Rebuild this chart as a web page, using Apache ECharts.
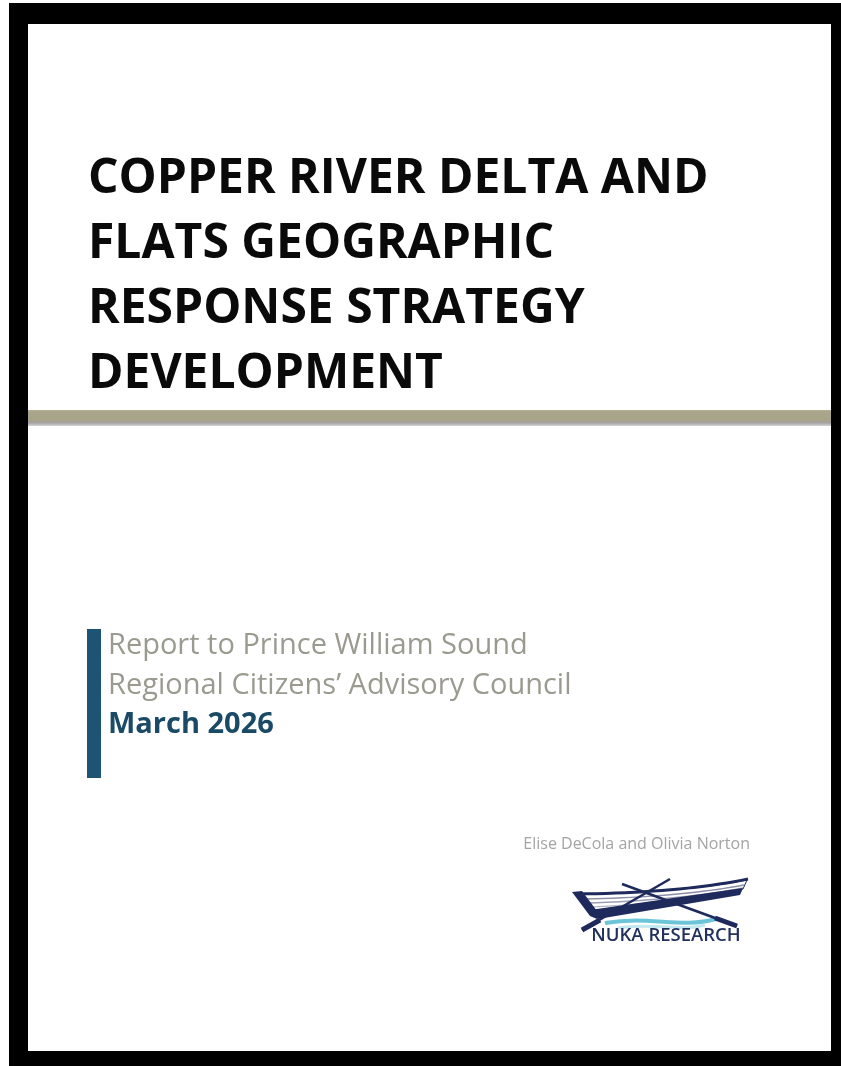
<!DOCTYPE html>
<html>
<head>
<meta charset="utf-8">
<script src="https://cdn.jsdelivr.net/npm/echarts@6/dist/echarts.min.js"></script>
<style>
html,body{margin:0;padding:0;background:#ffffff;}
#chart{width:841px;height:1066px;}
</style>
</head>
<body>
<div id="chart"></div>
<script>
// Text content of the cover
const titleLines = ["COPPER RIVER DELTA AND", "FLATS GEOGRAPHIC", "RESPONSE STRATEGY", "DEVELOPMENT"];
const subtitleLines = ["Report to Prince William Sound", "Regional Citizens\u2019 Advisory Council"];
const dateLine = ["March 2026"];
const authorLine = ["Elise DeCola and Olivia Norton"];
const logoText = ["NUKA RESEARCH"];

const chart = echarts.init(document.getElementById('chart'), null, {renderer: 'canvas', width: 841, height: 1066});

const navy = '#1f2a5c';
const elements = [];

// quadratic curve sampler for logo outline
function quad(p0, c, p1, n) {
  const pts = [];
  for (let k = 0; k <= n; k++) {
    const t = k / n, u = 1 - t;
    pts.push([u * u * p0[0] + 2 * u * t * c[0] + t * t * p1[0], u * u * p0[1] + 2 * u * t * c[1] + t * t * p1[1]]);
  }
  return pts;
}

// frame
elements.push({type: 'rect', shape: {x: 9, y: 3, width: 832, height: 1063}, style: {fill: '#000000'}, z: 0});
elements.push({type: 'rect', shape: {x: 28, y: 24, width: 803, height: 1027}, style: {fill: '#ffffff'}, z: 1});

// title
titleLines.forEach(function (t, i) {
  elements.push({
    type: 'text', x: 88, y: 179 + i * 65, z: 5,
    style: {text: t, font: '700 48px "Open Sans"', fill: '#0a0a0a', align: 'left', verticalAlign: 'middle'}
  });
});

// rule under title
elements.push({type: 'rect', shape: {x: 28, y: 410, width: 803, height: 16}, z: 4,
  style: {fill: new echarts.graphic.LinearGradient(0, 0, 0, 1, [
    {offset: 0, color: '#b4b098'}, {offset: 0.15, color: '#a9a58b'}, {offset: 0.65, color: '#a8a48a'},
    {offset: 0.8, color: '#a4a2a4'}, {offset: 1, color: '#d4d2d6'}])}});

// side bar
elements.push({type: 'rect', shape: {x: 87, y: 629, width: 14, height: 149}, style: {fill: '#1d5473'}, z: 4});

subtitleLines.forEach(function (t, i) {
  elements.push({
    type: 'text', x: 108, y: 646 + i * 40, z: 5,
    style: {text: t, font: '400 29px "Open Sans"', fill: '#9b9a90', align: 'left', verticalAlign: 'middle'}
  });
});
elements.push({
  type: 'text', x: 108, y: 725, z: 5,
  style: {text: dateLine[0], font: '700 29px "Open Sans"', fill: '#1b4a66', align: 'left', verticalAlign: 'middle'}
});

// authors
elements.push({
  type: 'text', x: 750, y: 844, z: 5,
  style: {text: authorLine[0], font: '400 16px "Open Sans"', fill: '#a4a4a4', align: 'right', verticalAlign: 'middle'}
});

// logo: wave
elements.push({type: 'bezierCurve', z: 5, shape: {x1: 605, y1: 923, x2: 716, y2: 919, cpx1: 650, cpy1: 915, cpx2: 680, cpy2: 929},
  style: {stroke: '#6cc4d8', lineWidth: 4, fill: null}});
elements.push({type: 'bezierCurve', z: 5, shape: {x1: 618, y1: 928, x2: 705, y2: 925, cpx1: 650, cpy1: 922, cpx2: 680, cpy2: 932},
  style: {stroke: '#c4e8f0', lineWidth: 3, fill: null}});
// hull body
const hullTop = quad([577, 894], [680, 893], [747, 880], 20);
elements.push({type: 'polygon', z: 6, shape: {points: hullTop.concat([[743, 889], [590, 911]])},
  style: {fill: '#ffffff', stroke: navy, lineWidth: 1}});
// stripes
elements.push({type: 'polyline', z: 7, shape: {points: quad([585, 899], [680, 897], [744, 885], 20)}, style: {stroke: '#8a8ea6', lineWidth: 1.5, fill: null}});
elements.push({type: 'polyline', z: 7, shape: {points: quad([588, 903], [680, 900], [743, 888], 20)}, style: {stroke: '#9da0b4', lineWidth: 1.5, fill: null}});
elements.push({type: 'polyline', z: 7, shape: {points: quad([590, 907], [680, 903], [742, 890], 20)}, style: {stroke: '#b0b2c2', lineWidth: 1.2, fill: null}});
// gunwale
elements.push({type: 'polyline', z: 8, shape: {points: quad([575, 894], [680, 893], [748, 879], 20)}, style: {stroke: navy, lineWidth: 3, fill: null}});
// bottom band
elements.push({type: 'polygon', z: 8, shape: {points: [[590, 910], [743, 888], [740, 895], [598, 919]]},
  style: {fill: navy}});
// bow
elements.push({type: 'polygon', z: 8, shape: {points: [[572, 892], [582, 891], [600, 915], [597, 919], [590, 916]]},
  style: {fill: navy}});
// oars
elements.push({type: 'line', z: 9, shape: {x1: 622, y1: 884, x2: 737, y2: 926}, style: {stroke: navy, lineWidth: 2.5}});
elements.push({type: 'line', z: 9, shape: {x1: 715, y1: 918, x2: 737, y2: 926}, style: {stroke: navy, lineWidth: 5}});
elements.push({type: 'line', z: 9, shape: {x1: 670, y1: 879, x2: 582, y2: 930}, style: {stroke: navy, lineWidth: 2.5}});
elements.push({type: 'line', z: 9, shape: {x1: 600, y1: 920, x2: 582, y2: 930}, style: {stroke: navy, lineWidth: 5}});
// logo text
elements.push({
  type: 'text', x: 666, y: 936, z: 10,
  style: {text: logoText[0], font: '600 18.5px "Open Sans"', fill: '#22305e', align: 'center', verticalAlign: 'middle'}
});

chart.setOption({animation: false, backgroundColor: '#ffffff', graphic: {elements: elements}});
</script>
</body>
</html>
